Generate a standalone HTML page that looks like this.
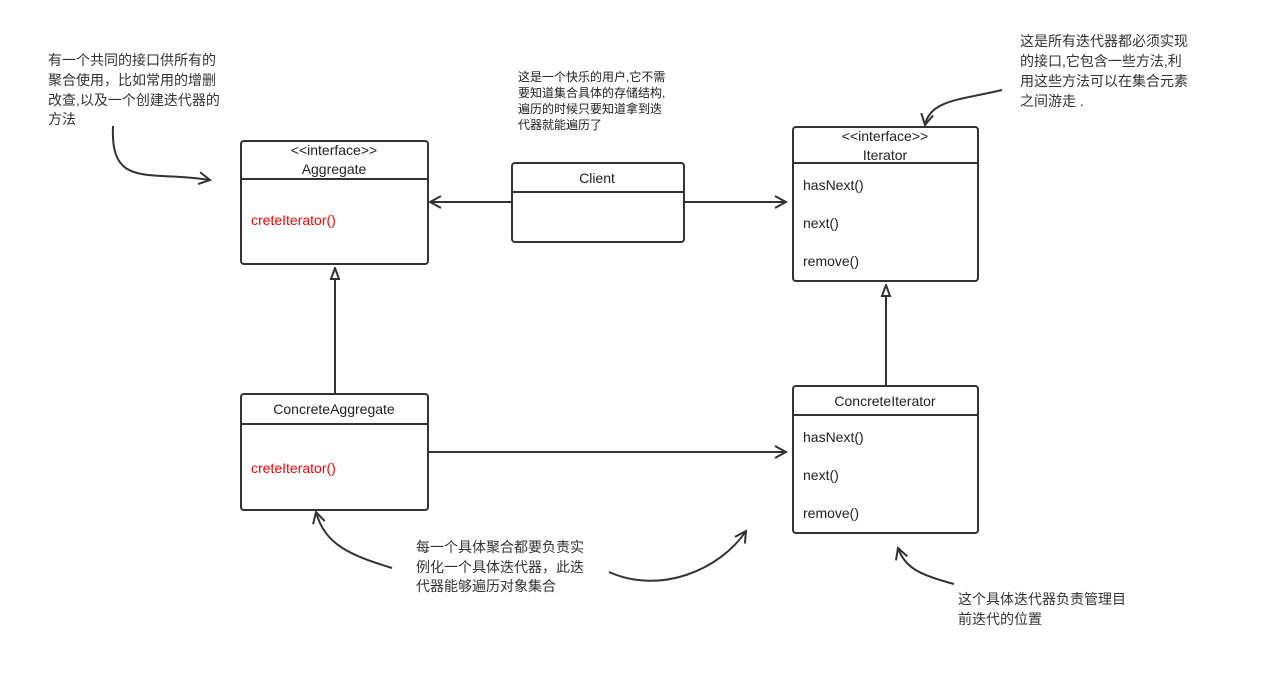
<!DOCTYPE html>
<html><head><meta charset="utf-8"><style>
body{margin:0;background:#fff;}
svg{display:block;font-family:"Liberation Sans","Noto Sans CJK SC",sans-serif;}
.t{fill:#333;font-size:14px;}
.n{fill:#222;font-size:14px;}
.s{fill:#222;font-size:12px;}
.r{fill:#f00;font-size:14px;}
</style></head><body>
<svg width="1269" height="689" viewBox="0 0 1269 689">
<defs>
<marker id="open" markerWidth="14" markerHeight="14" refX="12" refY="7" orient="auto" markerUnits="userSpaceOnUse">
<path d="M1,1 L12,7 L1,13" fill="none" stroke="#333" stroke-width="2"/></marker>
<marker id="tri" markerWidth="12" markerHeight="14" refX="6" refY="1" orient="0" markerUnits="userSpaceOnUse">
<path d="M6,1 L10,12 L2,12 Z" fill="#fff" stroke="#333" stroke-width="2"/></marker>
</defs>
<g fill="#fff" stroke="#333" stroke-width="2">
<rect x="241" y="141" width="187" height="123" rx="3"/>
<rect x="512" y="163" width="172" height="79" rx="3"/>
<rect x="793" y="127" width="185" height="154" rx="3"/>
<rect x="241" y="394" width="187" height="116" rx="3"/>
<rect x="793" y="386" width="185" height="147" rx="3"/>
<line x1="241" y1="179" x2="428" y2="179"/>
<line x1="512" y1="192" x2="684" y2="192"/>
<line x1="793" y1="163" x2="978" y2="163"/>
<line x1="241" y1="424" x2="428" y2="424"/>
<line x1="793" y1="415" x2="978" y2="415"/>
</g>
<g stroke="#333" stroke-width="2" fill="none">
<line x1="512" y1="202" x2="430" y2="202" marker-end="url(#open)"/>
<line x1="684" y1="202" x2="786" y2="202" marker-end="url(#open)"/>
<line x1="428" y1="452" x2="786" y2="452" marker-end="url(#open)"/>
<line x1="335" y1="394" x2="335" y2="268" marker-end="url(#tri)"/>
<line x1="886" y1="386" x2="886" y2="285" marker-end="url(#tri)"/>
<path d="M113,126 C110,190 150,170 210,180" marker-end="url(#open)"/>
<path d="M1002,90 C960,100 930,100 925,125" marker-end="url(#open)"/>
<path d="M392,568 C350,555 325,545 316,512" marker-end="url(#open)"/>
<path d="M609,572 C660,595 720,570 746,531" marker-end="url(#open)"/>
<path d="M954,584 C920,575 905,568 898,548" marker-end="url(#open)"/>
</g>
<text class="n" x="334" y="155" text-anchor="middle">&lt;&lt;interface&gt;&gt;</text>
<text class="n" x="334" y="174" text-anchor="middle">Aggregate</text>
<text class="r" x="251" y="225">creteIterator()</text>
<text class="n" x="597" y="183" text-anchor="middle">Client</text>
<text class="n" x="885" y="141" text-anchor="middle">&lt;&lt;interface&gt;&gt;</text>
<text class="n" x="885" y="160" text-anchor="middle">Iterator</text>
<text class="n" x="803" y="190">hasNext()</text>
<text class="n" x="803" y="228">next()</text>
<text class="n" x="803" y="266">remove()</text>
<text class="n" x="334" y="414" text-anchor="middle">ConcreteAggregate</text>
<text class="r" x="251" y="473">creteIterator()</text>
<text class="n" x="885" y="406" text-anchor="middle">ConcreteIterator</text>
<text class="n" x="803" y="442">hasNext()</text>
<text class="n" x="803" y="480">next()</text>
<text class="n" x="803" y="518">remove()</text>
<g class="t">
<text x="48" y="65">有一个共同的接口供所有的</text>
<text x="48" y="85">聚合使用，比如常用的增删</text>
<text x="48" y="105">改查,以及一个创建迭代器的</text>
<text x="48" y="124">方法</text>
<text x="1020" y="46">这是所有迭代器都必须实现</text>
<text x="1020" y="66">的接口,它包含一些方法,利</text>
<text x="1020" y="86">用这些方法可以在集合元素</text>
<text x="1020" y="106">之间游走 .</text>
<text x="416" y="552">每一个具体聚合都要负责实</text>
<text x="416" y="572">例化一个具体迭代器，此迭</text>
<text x="416" y="591">代器能够遍历对象集合</text>
<text x="958" y="604">这个具体迭代器负责管理目</text>
<text x="958" y="624">前迭代的位置</text>
</g>
<g class="s">
<text x="518" y="81">这是一个快乐的用户,它不需</text>
<text x="518" y="97">要知道集合具体的存储结构,</text>
<text x="518" y="113">遍历的时候只要知道拿到迭</text>
<text x="518" y="129">代器就能遍历了</text>
</g>
</svg>
</body></html>
